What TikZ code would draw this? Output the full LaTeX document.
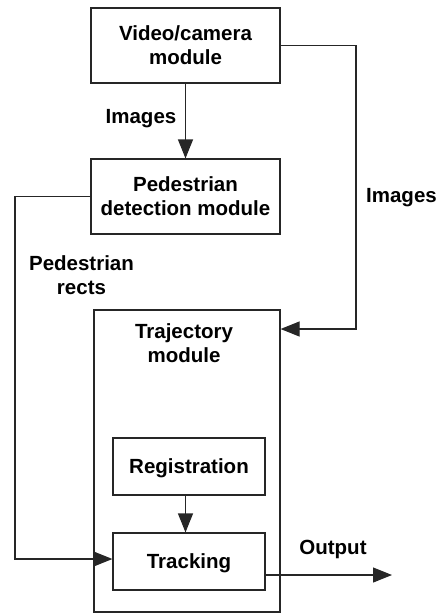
\documentclass[tikz,border=0pt]{standalone}
\usepackage{fontspec}
\setmainfont{Liberation Sans}
\usetikzlibrary{arrows.meta}
\begin{document}
\begin{tikzpicture}[x=1pt,y=1pt,
  line width=1.2pt,
  every node/.style={font=\fontsize{20.5}{24}\selectfont\bfseries, text=black},
  modbox/.style={draw=black!85, inner sep=0pt, align=center, text depth=0pt},
  lbl/.style={align=center, inner sep=0pt},
  conn/.style={draw=black!85, -{Triangle[length=19pt,width=15pt]}},
  wire/.style={draw=black!85}
]
\useasboundingbox (0,0) rectangle (440,-614);

% modules
\node[modbox, minimum width=189pt, minimum height=75pt] (vid) at (185.5,-45.5) {Video/camera\\module};
\node[modbox, minimum width=189pt, minimum height=75pt] (ped) at (185.5,-196.5) {Pedestrian\\detection module};
\node[modbox, minimum width=186pt, minimum height=302pt] (traj) at (187,-461) {};
\node[lbl] (trajlbl) at (184,-343) {Trajectory\\module};
\node[modbox, minimum width=152pt, minimum height=57pt] (reg) at (189,-466.5) {Registration};
\node[modbox, minimum width=152pt, minimum height=57pt] (track) at (189,-561.5) {Tracking};

% junction points of the routed wires
\coordinate (rtop) at (356,-45.5);
\coordinate (rbot) at (356,-329);
\coordinate (ltop) at (15,-196.5);
\coordinate (lbot) at (15,-559);
\coordinate (outend) at (392,-575);

% connectors
\draw[conn] (vid.south) -- (ped.north);
\draw[conn] (vid.east) -- (rtop) -- (rbot) -- (rbot -| traj.east);
\draw[conn] (ped.west) -- (ltop) -- (lbot) -- (lbot -| track.west);
\draw[conn] (reg.south -| vid.south) -- (track.north -| vid.south);
\draw[conn] (outend -| track.east) -- (outend);

% connector labels
\node[lbl] (imgA) at (141,-119) {Images};
\node[lbl] (imgB) at (401.5,-198) {Images};
\node[lbl] (rects) at (81.5,-275) {Pedestrian\\rects};
\node[lbl] (outlbl) at (333,-549) {Output};
\end{tikzpicture}
\end{document}
